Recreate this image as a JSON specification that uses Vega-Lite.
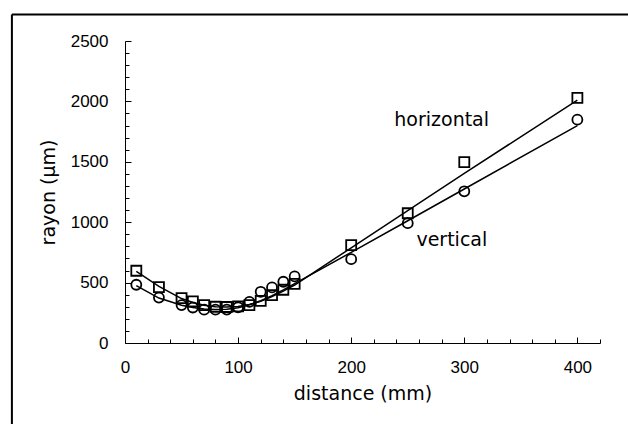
{
  "$schema": "https://vega.github.io/schema/vega-lite/v6.json",
  "width": 475,
  "height": 302,
  "autosize": "none",
  "padding": {"left": 125, "top": 41, "right": 28, "bottom": 81},
  "background": "white",
  "config": {
    "view": {"stroke": null},
    "axis": {
      "domainColor": "black",
      "domainWidth": 1,
      "tickColor": "black",
      "tickWidth": 1,
      "grid": false,
      "labelFont": "Liberation Sans",
      "labelFontSize": 17,
      "labelColor": "black",
      "labelOverlap": false,
      "labelFlush": false,
      "titleFont": "DejaVu Sans",
      "titleFontSize": 19,
      "titleFontWeight": "normal",
      "titleColor": "black"
    }
  },
  "resolve": {"axis": {"x": "independent", "y": "independent"}},
  "datasets": {
    "points": [
      {"serie": "horizontal", "distance": 10, "rayon": 598},
      {"serie": "horizontal", "distance": 30, "rayon": 462},
      {"serie": "horizontal", "distance": 50, "rayon": 372},
      {"serie": "horizontal", "distance": 60, "rayon": 345},
      {"serie": "horizontal", "distance": 70, "rayon": 314},
      {"serie": "horizontal", "distance": 80, "rayon": 300},
      {"serie": "horizontal", "distance": 90, "rayon": 298},
      {"serie": "horizontal", "distance": 100, "rayon": 303},
      {"serie": "horizontal", "distance": 110, "rayon": 314},
      {"serie": "horizontal", "distance": 120, "rayon": 348},
      {"serie": "horizontal", "distance": 130, "rayon": 397},
      {"serie": "horizontal", "distance": 140, "rayon": 441},
      {"serie": "horizontal", "distance": 150, "rayon": 490},
      {"serie": "horizontal", "distance": 200, "rayon": 810},
      {"serie": "horizontal", "distance": 250, "rayon": 1074},
      {"serie": "horizontal", "distance": 300, "rayon": 1498},
      {"serie": "horizontal", "distance": 400, "rayon": 2030},
      {"serie": "vertical", "distance": 10, "rayon": 482},
      {"serie": "vertical", "distance": 30, "rayon": 376},
      {"serie": "vertical", "distance": 50, "rayon": 314},
      {"serie": "vertical", "distance": 60, "rayon": 294},
      {"serie": "vertical", "distance": 70, "rayon": 276},
      {"serie": "vertical", "distance": 80, "rayon": 276},
      {"serie": "vertical", "distance": 90, "rayon": 277},
      {"serie": "vertical", "distance": 100, "rayon": 296},
      {"serie": "vertical", "distance": 110, "rayon": 341},
      {"serie": "vertical", "distance": 120, "rayon": 424},
      {"serie": "vertical", "distance": 130, "rayon": 460},
      {"serie": "vertical", "distance": 140, "rayon": 507},
      {"serie": "vertical", "distance": 150, "rayon": 551},
      {"serie": "vertical", "distance": 200, "rayon": 694},
      {"serie": "vertical", "distance": 250, "rayon": 992},
      {"serie": "vertical", "distance": 300, "rayon": 1256},
      {"serie": "vertical", "distance": 400, "rayon": 1849}
    ],
    "fits": [
      {"serie": "horizontal", "distance": 10, "rayon": 592},
      {"serie": "horizontal", "distance": 30, "rayon": 468},
      {"serie": "horizontal", "distance": 50, "rayon": 368},
      {"serie": "horizontal", "distance": 60, "rayon": 335},
      {"serie": "horizontal", "distance": 70, "rayon": 312},
      {"serie": "horizontal", "distance": 80, "rayon": 300},
      {"serie": "horizontal", "distance": 90, "rayon": 297},
      {"serie": "horizontal", "distance": 100, "rayon": 302},
      {"serie": "horizontal", "distance": 110, "rayon": 318},
      {"serie": "horizontal", "distance": 120, "rayon": 345},
      {"serie": "horizontal", "distance": 130, "rayon": 385},
      {"serie": "horizontal", "distance": 140, "rayon": 430},
      {"serie": "horizontal", "distance": 150, "rayon": 480},
      {"serie": "horizontal", "distance": 200, "rayon": 788},
      {"serie": "horizontal", "distance": 250, "rayon": 1095},
      {"serie": "horizontal", "distance": 300, "rayon": 1405},
      {"serie": "horizontal", "distance": 400, "rayon": 2010},
      {"serie": "vertical", "distance": 10, "rayon": 475},
      {"serie": "vertical", "distance": 30, "rayon": 372},
      {"serie": "vertical", "distance": 50, "rayon": 312},
      {"serie": "vertical", "distance": 60, "rayon": 293},
      {"serie": "vertical", "distance": 70, "rayon": 282},
      {"serie": "vertical", "distance": 80, "rayon": 278},
      {"serie": "vertical", "distance": 90, "rayon": 280},
      {"serie": "vertical", "distance": 100, "rayon": 292},
      {"serie": "vertical", "distance": 110, "rayon": 316},
      {"serie": "vertical", "distance": 120, "rayon": 350},
      {"serie": "vertical", "distance": 130, "rayon": 392},
      {"serie": "vertical", "distance": 140, "rayon": 440},
      {"serie": "vertical", "distance": 150, "rayon": 492},
      {"serie": "vertical", "distance": 200, "rayon": 750},
      {"serie": "vertical", "distance": 250, "rayon": 1012},
      {"serie": "vertical", "distance": 300, "rayon": 1275},
      {"serie": "vertical", "distance": 400, "rayon": 1800}
    ],
    "labels": [
      {"label": "horizontal", "distance": 280, "rayon": 1843},
      {"label": "vertical", "distance": 289, "rayon": 851}
    ]
  },
  "layer": [
    {
      "data": {"values": [{}]},
      "mark": {"type": "rule", "color": "black", "strokeWidth": 2, "clip": false},
      "encoding": {
        "x": {"datum": -100, "type": "quantitative", "scale": {"domain": [0, 420], "nice": false, "zero": false}, "axis": null},
        "y": {"datum": 2719, "type": "quantitative", "scale": {"domain": [0, 2500], "nice": false}, "axis": null},
        "y2": {"datum": -1000}
      }
    },
    {
      "data": {"values": [{}]},
      "mark": {"type": "rule", "color": "black", "strokeWidth": 2, "clip": false},
      "encoding": {
        "x": {"datum": -100, "type": "quantitative", "axis": null},
        "x2": {"datum": 480},
        "y": {"datum": 2719, "type": "quantitative", "axis": null}
      }
    },
    {
      "data": {"name": "fits"},
      "mark": {"type": "line", "color": "black", "strokeWidth": 1.5},
      "encoding": {
        "x": {
          "field": "distance", "type": "quantitative",
          "axis": {
            "orient": "bottom",
            "title": null,
            "labels": false,
            "domain": false,
            "values": [20,40,60,80,120,140,160,180,220,240,260,280,320,340,360,380,420],
            "tickSize": -4
          }
        },
        "y": {
          "field": "rayon", "type": "quantitative",
          "axis": {
            "orient": "left",
            "title": null,
            "labels": false,
            "domain": false,
            "values": [100,200,300,400,600,700,800,900,1100,1200,1300,1400,1600,1700,1800,1900,2100,2200,2300,2400],
            "tickSize": -4
          }
        },
        "detail": {"field": "serie"},
        "order": {"field": "distance"}
      }
    },
    {
      "data": {"name": "points"},
      "mark": {"type": "point", "filled": false, "stroke": "black", "strokeWidth": 1.8, "size": 100, "opacity": 1},
      "encoding": {
        "x": {
          "field": "distance", "type": "quantitative",
          "axis": {
            "orient": "bottom",
            "title": "distance (mm)",
            "values": [0,100,200,300,400],
            "format": "d",
            "tickSize": -6,
            "labelPadding": 22,
            "titlePadding": 9
          }
        },
        "y": {
          "field": "rayon", "type": "quantitative",
          "axis": {
            "orient": "left",
            "title": "rayon (µm)",
            "values": [0,500,1000,1500,2000,2500],
            "format": "d",
            "tickSize": -6,
            "labelPadding": 23,
            "titlePadding": 12
          }
        },
        "shape": {
          "field": "serie", "type": "nominal",
          "scale": {"domain": ["horizontal", "vertical"], "range": ["square", "circle"]},
          "legend": null
        }
      }
    },
    {
      "data": {"name": "labels"},
      "mark": {"type": "text", "font": "DejaVu Sans", "fontSize": 19, "color": "black", "align": "center", "baseline": "middle"},
      "encoding": {
        "x": {"field": "distance", "type": "quantitative", "axis": null},
        "y": {"field": "rayon", "type": "quantitative", "axis": null},
        "text": {"field": "label"}
      }
    }
  ]
}
